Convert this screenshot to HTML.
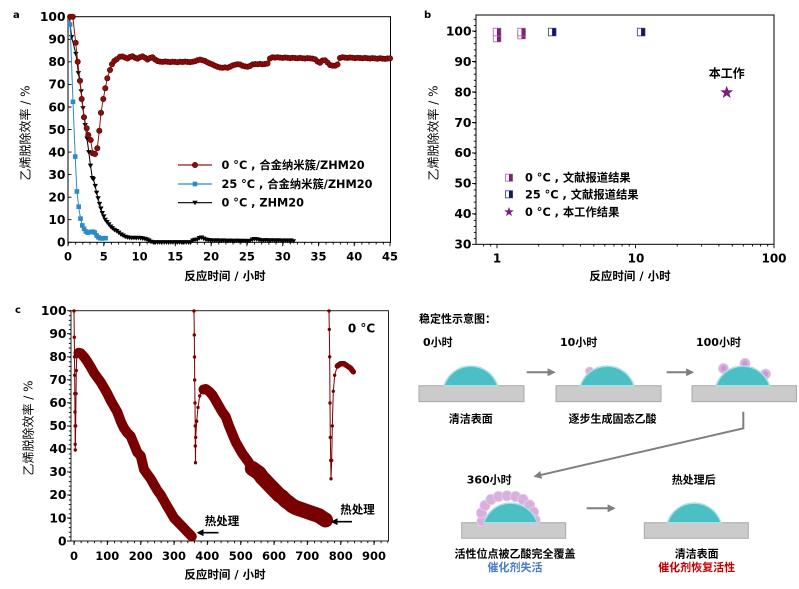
<!DOCTYPE html>
<html><head><meta charset="utf-8"><style>
html,body{margin:0;padding:0;background:#fff;}
svg{display:block;}
text{font-family:"DejaVu Sans","Noto Sans CJK SC",sans-serif;}
.b{font-weight:bold;}
</style></head><body>
<svg width="799" height="589" viewBox="0 0 799 589" xmlns="http://www.w3.org/2000/svg">
<defs>
<marker id="mc" viewBox="-4 -4 8 8" refX="0" refY="0" markerWidth="8" markerHeight="8" markerUnits="userSpaceOnUse" overflow="visible"><circle r="2.7" fill="#8B0D0D" stroke="#5a0000" stroke-width="0.6"/></marker>
<marker id="ms" viewBox="-4 -4 8 8" refX="0" refY="0" markerWidth="8" markerHeight="8" markerUnits="userSpaceOnUse" overflow="visible"><rect x="-2.3" y="-2.3" width="4.6" height="4.6" fill="#2A8CC6"/></marker>
<marker id="mt" viewBox="-4 -4 8 8" refX="0" refY="0" markerWidth="8" markerHeight="8" markerUnits="userSpaceOnUse" overflow="visible"><polygon points="-2.7,-2 2.7,-2 0,2.6" fill="#000"/></marker>
<marker id="mcs" viewBox="-3 -3 6 6" refX="0" refY="0" markerWidth="6" markerHeight="6" markerUnits="userSpaceOnUse" overflow="visible"><circle r="1.7" fill="#7B0000"/></marker>
<pattern id="pax" x="68" y="0" width="7.156" height="10" patternUnits="userSpaceOnUse"><rect x="0" y="0" width="0.9" height="10" fill="#000"/></pattern>
<pattern id="pcx" x="74" y="0" width="6.667" height="10" patternUnits="userSpaceOnUse"><rect x="0" y="0" width="0.9" height="10" fill="#000"/></pattern>
<pattern id="pcy" x="0" y="541" width="10" height="4.606" patternUnits="userSpaceOnUse"><rect x="0" y="0" width="10" height="0.9" fill="#000"/></pattern>
<pattern id="pby" x="0" y="244.3" width="10" height="6.092" patternUnits="userSpaceOnUse"><rect x="0" y="0" width="10" height="0.9" fill="#000"/></pattern>
<marker id="ah" viewBox="0 0 10 10" refX="8" refY="5" markerWidth="8" markerHeight="8" markerUnits="userSpaceOnUse" orient="auto"><polygon points="0,0 10,5 0,10" fill="#7F7F7F"/></marker>
<marker id="ahk" viewBox="0 0 10 10" refX="8" refY="5" markerWidth="7" markerHeight="7" markerUnits="userSpaceOnUse" orient="auto"><polygon points="0,0 10,5 0,10" fill="#000"/></marker>
</defs>

<!-- ================= PANEL A ================= -->
<text x="13" y="18" class="b" font-size="10">a</text>
<rect x="68" y="16.7" width="322.5" height="225.6" fill="none" stroke="#000" stroke-width="1"/>
<path d="M68,242.3h3.5M68,219.7h3.5M68,197.2h3.5M68,174.6h3.5M68,152.1h3.5M68,129.5h3.5M68,107h3.5M68,84.4h3.5M68,61.8h3.5M68,39.3h3.5" stroke="#000" stroke-width="0.9"/>
<rect x="68" y="242.3" width="322" height="2.2" fill="url(#pax)"/>
<path d="M68,242.3v4M103.8,242.3v4M139.6,242.3v4M175.3,242.3v4M211.1,242.3v4M246.9,242.3v4M282.7,242.3v4M318.5,242.3v4M354.2,242.3v4M390,242.3v4" stroke="#000" stroke-width="0.9"/>
<g class="b" font-size="12.3" text-anchor="end">
<text x="65.5" y="246.6">0</text><text x="65.5" y="224">10</text><text x="65.5" y="201.5">20</text><text x="65.5" y="178.9">30</text><text x="65.5" y="156.4">40</text><text x="65.5" y="133.8">50</text><text x="65.5" y="111.3">60</text><text x="65.5" y="88.7">70</text><text x="65.5" y="66.1">80</text><text x="65.5" y="43.6">90</text><text x="65.5" y="21">100</text>
</g>
<g class="b" font-size="11.5" text-anchor="middle">
<text x="68" y="260.5">0</text><text x="103.8" y="260.5">5</text><text x="139.6" y="260.5">10</text><text x="175.3" y="260.5">15</text><text x="211.1" y="260.5">20</text><text x="246.9" y="260.5">25</text><text x="282.7" y="260.5">30</text><text x="318.5" y="260.5">35</text><text x="354.2" y="260.5">40</text><text x="390" y="260.5">45</text>
</g>
<text x="225" y="280" class="b" font-size="11.5" text-anchor="middle">反应时间 / 小时</text>
<text transform="translate(29.5,133) rotate(-90)" font-size="12" text-anchor="middle">乙烯脱除效率 / %</text>

<path fill="none" stroke="#000" stroke-width="1" marker-mid="url(#mt)" marker-end="url(#mt)"
d="M69.5,18 L71.6,37 L75.9,53.9 L78.4,73.1 L81.2,91.2 L83,108.1 L85.2,125 L87,138.5 L88.8,152.1 L90.5,165.6 L92.3,178 L93.4,179.1 L95.2,185.9 L96.6,192.7 L98.1,198.3 L99.5,203.9 L100.9,208.5 L102.3,213 L103.8,216.4 L105.2,219.7 L107,222 L108.8,224.3 L110.6,226.5 L112.4,228.1 L114.5,229.9 L116.7,231 L118.8,232.6 L121,234.4 L123.1,235.5 L125.2,236.7 L127.4,237.3 L129.6,237.8 L131.8,237.9 L134,237.8 L136.2,238 L138.4,237.8 L140.6,238 L142.8,238.4 L145,238.9 L147,239.5 L149,240.5 L151,241.8 L153.2,242.3 h2.2 h2.2 h2.2 h2.2 h2.2 h2.2 h2.2 h2.2 h2.2 h2.2 h2.2 h2.2 h2.2 h2.2 h2.2 h2.2 h2.2 L192.8,240.5 L195,239.8 L197.2,239.5 L199.4,238 L201.6,237.5 L203.8,238.6 L206,239.5 L208.2,240 L210.4,240.2 L212.6,240.4 l2.2,0.3 l2.2,-0.4 l2.2,0.2 l2.2,0.3 l2.2,-0.4 l2.2,0.2 l2.2,0.3 l2.2,-0.4 l2.2,0.2 l2.2,0.3 l2.2,-0.4 l2.2,0.2 l2.2,0.3 l2.2,-0.4 l2.2,0.2 l2.2,0.3 l2.2,-0.4 L252.4,239.5 L254.6,239 L256.8,239.2 L259,239.8 L261.2,240.2 l2.2,0.3 l2.2,-0.4 l2.2,0.2 l2.2,0.3 l2.2,-0.4 l2.2,0.2 l2.2,0.3 l2.2,-0.4 l2.2,0.2 l2.2,0.3 l2.2,-0.4 l2.2,0.2 l2.2,0.3 L291,240.4 L293.4,241.2"/>

<path fill="none" stroke="#2A8CC6" stroke-width="1" marker-start="url(#ms)" marker-mid="url(#ms)" marker-end="url(#ms)"
d="M70.1,24.6 L73,101.8 L75.2,156.6 L76.9,191.5 L78.7,206.7 L80.5,218.6 L82.3,225.4 L84.1,228.8 L85.9,231.5 L87.7,232.6 L89.5,232.2 L91.3,231.9 L93,231.7 L94.8,232.6 L96.6,235.5 L98.4,237.3 L100.2,238.2 L102,238.5 L103.8,238.2 L105.6,238.2"/>

<path fill="none" stroke="#8B1A1A" stroke-width="1" marker-start="url(#mc)" marker-mid="url(#mc)" marker-end="url(#mc)"
d="M70.1,16.7 L72.8,16.7 L75.7,42.7 L77.7,61.7 L80,80.7 L81.7,99 L84,117.3 L86.7,128.3 L88.3,135 L90.7,140 L92.7,153.3 L95,154 L97.3,148.3 L99.3,130.7 L101,112.7 L103.3,99 L105.3,88.3 L107.3,78.3 L110,70 L112,64.3 L114.3,61 L116.7,59.3 L120,56.7 L122.5,56.5 L125,57.5 L127.5,58.5 L130,57 L132.5,56.3 L135,57.8 L137.5,58.6 L140,57.2 L142.5,56.4 L145,57.8 L147.5,59.5 L150,58 L152.5,57.2 L155,59.5 L157.5,61 L160,61.6 L162.5,61.9 L165,61.5 L167.5,61.8 L170,62.1 L172.5,61.7 L175,61.9 L177.5,62.2 L180,61.8 L182.5,62 L185,61.6 L187.5,61.9 L190,62.1 L192.5,61.7 L195,61.2 L197.5,60.3 L200,59.6 L202.5,60.2 L205,61 L207.5,62.4 L210,63.5 L212.5,64.5 L215,65.8 L217.5,66.8 L220,67.5 L222.5,67.8 L225,67.4 L227.5,67.8 L230,66.8 L232.5,65.5 L235,64.8 L237.5,64.2 L240,64.5 L242.5,65.8 L245,66.4 L247.5,66.8 L250,66 L252.5,64.5 L255,64.1 L257.5,64.3 L260,63.9 L262.5,64.3 L265,64 L267.5,63.5 L270,58.5 L272.5,57.3 L275,57.6 L277.5,57.2 L280,57.6 L282.5,57.9 L285,57.5 L287.5,57.8 L290,58.1 L292.5,57.7 L295,58 L297.5,58.3 L300,57.9 L302.5,58.2 L305,58.5 L307.5,58.1 L310,58.4 L312.5,58.6 L315,59.2 L317.5,61.5 L320,62.8 L322.5,60.5 L325,60.2 L327.5,62.5 L330,65 L332.5,65.6 L335,65.8 L337.5,64.5 L340,58 L342.5,57.2 L345,57.6 L347.5,57.9 L350,57.5 L352.5,57.8 L355,58.1 L357.5,57.7 L360,58 L362.5,58.3 L365,57.9 L367.5,58.2 L370,58.5 L372.5,58.1 L375,58.4 L377.5,58.7 L380,58.3 L382.5,58.6 L385,58.9 L387.5,58.5 L390,58.4"/>

<line x1="178" y1="165" x2="212" y2="165" stroke="#8B1A1A" stroke-width="1.2"/>
<circle cx="195" cy="165" r="2.7" fill="#8B0D0D" stroke="#5a0000" stroke-width="0.6"/>
<line x1="178" y1="184" x2="212" y2="184" stroke="#2A8CC6" stroke-width="1.2"/>
<rect x="192.7" y="181.7" width="4.6" height="4.6" fill="#2A8CC6"/>
<line x1="178" y1="202.7" x2="212" y2="202.7" stroke="#000" stroke-width="1.2"/>
<polygon points="192.3,200.7 197.7,200.7 195,205.3" fill="#000"/>
<g class="b" font-size="11.3">
<text x="221.5" y="169">0 °C , 合金纳米簇/ZHM20</text>
<text x="221.5" y="188">25 °C , 合金纳米簇/ZHM20</text>
<text x="221.5" y="206.7">0 °C , ZHM20</text>
</g>

<!-- ================= PANEL B ================= -->
<text x="424" y="18" class="b" font-size="10">b</text>
<rect x="476" y="15" width="298" height="229.3" fill="none" stroke="#000" stroke-width="1"/>
<rect x="473.8" y="15" width="2.2" height="229.3" fill="url(#pby)"/>
<path d="M476,244.3h-4M476,213.8h-4M476,183.4h-4M476,152.9h-4M476,122.5h-4M476,92h-4M476,61.5h-4M476,31.1h-4" stroke="#000" stroke-width="0.9"/>
<path d="M483.6,244.3v2.2M490.7,244.3v2.2M538.7,244.3v2.2M563.1,244.3v2.2M580.4,244.3v2.2M593.8,244.3v2.2M604.8,244.3v2.2M614,244.3v2.2M622.1,244.3v2.2M629.2,244.3v2.2M677.2,244.3v2.2M701.6,244.3v2.2M718.9,244.3v2.2M732.3,244.3v2.2M743.3,244.3v2.2M752.5,244.3v2.2M760.6,244.3v2.2M767.7,244.3v2.2M497,244.3v4M635.5,244.3v4M774,244.3v4" stroke="#000" stroke-width="0.9"/>
<g class="b" font-size="12.3" text-anchor="end">
<text x="471.5" y="248.6">30</text><text x="471.5" y="218.1">40</text><text x="471.5" y="187.7">50</text><text x="471.5" y="157.2">60</text><text x="471.5" y="126.8">70</text><text x="471.5" y="96.3">80</text><text x="471.5" y="65.8">90</text><text x="471.5" y="35.4">100</text>
</g>
<g class="b" font-size="12" text-anchor="middle">
<text x="497" y="262.7">1</text><text x="636" y="262.7">10</text><text x="774" y="262.7">100</text>
</g>
<text x="630" y="280" class="b" font-size="11.5" text-anchor="middle">反应时间 / 小时</text>
<text transform="translate(437.5,133) rotate(-90)" font-size="12" text-anchor="middle">乙烯脱除效率 / %</text>

<g stroke-width="1">
<rect x="493.3" y="34.3" width="7.5" height="7.5" fill="#fff" stroke="#B57FB8"/><rect x="497" y="34.3" width="3.8" height="7.5" fill="#7E1F7E"/>
<rect x="493.3" y="28.3" width="7.5" height="7.5" fill="#fff" stroke="#B57FB8"/><rect x="497" y="28.3" width="3.8" height="7.5" fill="#7E1F7E"/>
<rect x="517.8" y="31.3" width="7.5" height="7.5" fill="#fff" stroke="#B57FB8"/><rect x="521.5" y="31.3" width="3.8" height="7.5" fill="#7E1F7E"/>
<rect x="517.8" y="28.3" width="7.5" height="7.5" fill="#fff" stroke="#B57FB8"/><rect x="521.5" y="28.3" width="3.8" height="7.5" fill="#7E1F7E"/>
<rect x="548.4" y="28.3" width="7.5" height="7.5" fill="#fff" stroke="#5A5A9A"/><rect x="552.1" y="28.3" width="3.8" height="7.5" fill="#141464"/>
<rect x="637.4" y="28.3" width="7.5" height="7.5" fill="#fff" stroke="#5A5A9A"/><rect x="641.1" y="28.3" width="3.8" height="7.5" fill="#141464"/>
</g>
<path transform="translate(726.7,92.5)" fill="#7A1F7E" d="M0,-6.8 L1.6,-2.2 L6.47,-2.1 L2.58,0.84 L4,5.5 L0,2.72 L-4,5.5 L-2.58,0.84 L-6.47,-2.1 L-1.6,-2.2 Z"/>
<text x="726.7" y="77.5" class="b" font-size="12" text-anchor="middle">本工作</text>
<rect x="505.5" y="174.2" width="7" height="7" fill="#fff" stroke="#B57FB8"/><rect x="509" y="174.2" width="3.5" height="7" fill="#7E1F7E"/>
<rect x="505.5" y="190.8" width="7" height="7" fill="#fff" stroke="#5A5A9A"/><rect x="509" y="190.8" width="3.5" height="7" fill="#141464"/>
<path transform="translate(509,212) scale(0.75)" fill="#7A1F7E" d="M0,-6.8 L1.6,-2.2 L6.47,-2.1 L2.58,0.84 L4,5.5 L0,2.72 L-4,5.5 L-2.58,0.84 L-6.47,-2.1 L-1.6,-2.2 Z"/>
<g class="b" font-size="11.3">
<text x="525" y="181.7">0 °C , 文献报道结果</text>
<text x="525" y="198.3">25 °C , 文献报道结果</text>
<text x="525" y="216">0 °C , 本工作结果</text>
</g>

<!-- ================= PANEL C ================= -->
<text x="15" y="313" class="b" font-size="10">c</text>
<rect x="71" y="310.7" width="317.5" height="230.3" fill="none" stroke="#222" stroke-width="1"/>
<rect x="68.8" y="310.7" width="2.2" height="230.3" fill="url(#pcy)"/>
<rect x="71" y="541" width="317" height="2.2" fill="url(#pcx)"/>
<path d="M71,541h-4M71,518h-4M71,494.9h-4M71,471.9h-4M71,448.9h-4M71,425.9h-4M71,402.8h-4M71,379.8h-4M71,356.8h-4M71,333.7h-4M71,310.7h-4M74,541v4M107.3,541v4M140.7,541v4M174,541v4M207.3,541v4M240.7,541v4M274,541v4M307.3,541v4M340.7,541v4M374,541v4" stroke="#000" stroke-width="0.9"/>
<g class="b" font-size="12.3" text-anchor="end">
<text x="66.5" y="545.3">0</text><text x="66.5" y="522.3">10</text><text x="66.5" y="499.2">20</text><text x="66.5" y="476.2">30</text><text x="66.5" y="453.2">40</text><text x="66.5" y="430.2">50</text><text x="66.5" y="407.1">60</text><text x="66.5" y="384.1">70</text><text x="66.5" y="361.1">80</text><text x="66.5" y="338">90</text><text x="66.5" y="315">100</text>
</g>
<g class="b" font-size="11.5" text-anchor="middle">
<text x="74" y="560">0</text><text x="107.3" y="560">100</text><text x="140.7" y="560">200</text><text x="174" y="560">300</text><text x="207.3" y="560">400</text><text x="240.7" y="560">500</text><text x="274" y="560">600</text><text x="307.3" y="560">700</text><text x="340.7" y="560">800</text><text x="374" y="560">900</text>
</g>
<text x="225" y="578.5" class="b" font-size="11.5" text-anchor="middle">反应时间 / 小时</text>
<text transform="translate(32.5,428) rotate(-90)" font-size="12" text-anchor="middle">乙烯脱除效率 / %</text>

<g fill="none" stroke="#7B0000" stroke-width="1" marker-start="url(#mcs)" marker-mid="url(#mcs)">
<path d="M74,311 L74.3,337.2 L74.5,356.8 L74.7,375.2 L74.8,393.6 L75,412 L75.1,425.9 L75.2,444.3 L75.3,450 L75.7,425.9 L76,393.6 L76.3,370.6 L76.7,356.8 L77.3,352.2"/>
<path d="M194,311 L194.3,335 L194.5,357 L194.7,380 L195,403 L195.2,425.9 L195.3,446 L195.5,462.7 L195.7,437.4 L196.7,421.2 L198,407.4 L199.7,395.9 L202.3,389"/>
<path d="M329,311 L329.3,329.4 L329.7,356.8 L330,403 L330.3,437.4 L330.7,460.4 L331,478.8 L331.7,460.4 L332.3,425.9 L333.3,391.3 L334.7,375.2 L337.3,366"/>
</g>
<g fill="none" stroke="#780000" stroke-linejoin="round" stroke-linecap="round">
<path stroke-width="10" d="M78.5,352.8 L80.7,353.3 L84,356.8 L87.3,361.4 L90.7,367.1 L94,372.9 L97.3,377.5 L100.7,382.1 L104,387.8 L107.3,393.6 L110.7,400.5 L114,406.3 L117.3,412 L120.7,421.2 L124,428.2 L127.3,432.8 L130.7,436.2 L134,444.3 L137.3,452.3 L140.7,455.8 L144,469.6 L147.3,474.2 L150.7,478.8 L154,484.6 L157.3,490.3 L160.7,494.9 L164,500.7 L167.3,506.5 L170.7,512.2 L174,518 L177.3,521.4 L180.7,524.9 L184,528.3 L187.3,531.8 L190.7,535.2 L191.8,536.5"/>
<path stroke-width="10" d="M203.5,389.5 L205.7,389 L209,391.3 L212.3,394.8 L215.7,400.5 L219,406.3 L222.3,412 L225.7,416.6 L229,425.9 L232.3,433.9 L235.7,442 L239,447.7 L242.3,453.5 L245.7,458.1 L249,462.7 L252.3,468.5"/>
<path stroke-width="15" d="M252.3,468.5 L255.7,470.8 L259,473.1 L262.3,477.7 L265.7,481.1 L269,484.6 L272.3,488 L275.7,491.5 L279,494.9 L282.3,497.2 L285.7,500.7 L289,503 L292.3,505.8 L295.7,507.6 L299,508.8 L302.3,509.9 L305.7,511.1 L309,512.2 L312.3,513.4 L315.7,514.5 L319,515.7 L322.3,518 L325.5,520"/>
<path stroke-width="5.5" d="M337.3,366 L340.7,363.7 L344,363.7 L345.7,364.8 L347.3,366 L349,367.1 L350.7,368.3 L352.3,370.6 L353.3,371.8"/>
</g>
<text x="361.5" y="332.5" class="b" font-size="12" text-anchor="middle">0 °C</text>
<text x="222" y="525" class="b" font-size="11.5" text-anchor="middle">热处理</text>
<line x1="218.5" y1="532.7" x2="198" y2="532.7" stroke="#000" stroke-width="1.6" marker-end="url(#ahk)"/>
<text x="357.5" y="513.5" class="b" font-size="11.5" text-anchor="middle">热处理</text>
<line x1="352" y1="521.7" x2="332" y2="521.7" stroke="#000" stroke-width="1.6" marker-end="url(#ahk)"/>

<!-- ================= SCHEMATIC ================= -->
<g class="b" font-size="11">
<text x="419" y="322.3">稳定性示意图：</text>
<text x="423" y="346">0小时</text>
<text x="560" y="346">10小时</text>
<text x="696" y="346">100小时</text>
<text x="470.8" y="422.5" text-anchor="middle">清洁表面</text>
<text x="612.5" y="422.5" text-anchor="middle">逐步生成固态乙酸</text>
<text x="466.7" y="483.3">360小时</text>
<text x="671.7" y="483.3">热处理后</text>
<text x="515" y="557.5" text-anchor="middle">活性位点被乙酸完全覆盖</text>
<text x="515" y="571" text-anchor="middle" fill="#4A7CC6">催化剂失活</text>
<text x="696.7" y="557.5" text-anchor="middle">清洁表面</text>
<text x="696.7" y="571" text-anchor="middle" fill="#C00000">催化剂恢复活性</text>
</g>
<g fill="#CBCBCB" stroke="#A9A9A9" stroke-width="1">
<rect x="419" y="385.7" width="105" height="16"/>
<rect x="556" y="385.7" width="105" height="16"/>
<rect x="692" y="385.7" width="104.5" height="16"/>
<rect x="461.7" y="522.7" width="104" height="15.6"/>
<rect x="644.3" y="522.7" width="104" height="15.6"/>
</g>
<g fill="#D7B0DE" stroke="#E3C6E8" stroke-width="0.8">
<circle cx="589.5" cy="371" r="4"/>
<circle cx="723.5" cy="368.5" r="5"/>
<circle cx="745" cy="363.3" r="5"/>
<circle cx="765.5" cy="374" r="5"/>
</g>
<g fill="#C998D3">
<circle cx="723.5" cy="368.5" r="2.6"/>
<circle cx="745" cy="363.3" r="2.6"/>
<circle cx="765.5" cy="374" r="2.6"/>
</g>
<g fill="#D7B0DE" stroke="#E6CCEA" stroke-width="0.8">
<circle cx="482" cy="521" r="5.2"/>
<circle cx="481.5" cy="513" r="5.2"/>
<circle cx="485" cy="505.5" r="5.2"/>
<circle cx="491" cy="499.5" r="5.2"/>
<circle cx="498.5" cy="496.5" r="5.2"/>
<circle cx="507" cy="495.8" r="5.2"/>
<circle cx="515.5" cy="496.5" r="5.2"/>
<circle cx="523" cy="499.5" r="5.2"/>
<circle cx="529.5" cy="505" r="5.2"/>
<circle cx="533.5" cy="512" r="5.2"/>
<circle cx="535" cy="520" r="5.2"/>
</g>
<g fill="#4BBFC3" stroke="#A4E0E7" stroke-width="1.5">
<path d="M444.1,385.7 A28,28 0 0 1 497.5,385.7 Z"/>
<path d="M580.5,385.7 A28,28 0 0 1 633.9,385.7 Z"/>
<path d="M716.2,385.7 A28,28 0 0 1 769.6,385.7 Z"/>
<path d="M483.8,522.7 A28,28 0 0 1 537.2,522.7 Z"/>
<path d="M667.5,522.7 A28,28 0 0 1 720.9,522.7 Z"/>
</g>
<g stroke="#7F7F7F" stroke-width="2" fill="none">
<line x1="526.7" y1="372.3" x2="554" y2="372.3" marker-end="url(#ah)"/>
<line x1="666.7" y1="372.3" x2="692.5" y2="372.3" marker-end="url(#ah)"/>
<line x1="586.7" y1="508.3" x2="614" y2="508.3" marker-end="url(#ah)"/>
<polyline points="743.3,411.7 743.3,428.3 535,476.3" marker-end="url(#ah)"/>
</g>
</svg>
</body></html>
